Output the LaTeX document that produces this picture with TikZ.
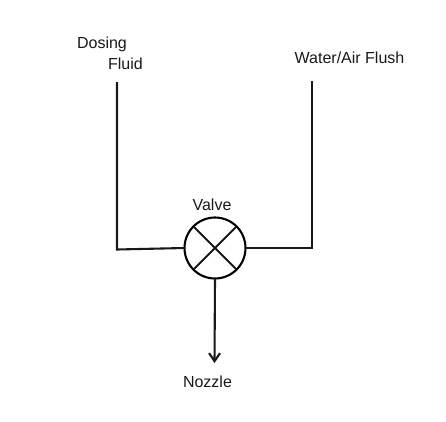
\documentclass[tikz,border=0pt]{standalone}
\usepackage{fontspec}
\setmainfont{Liberation Sans}
\usetikzlibrary{arrows.meta}
\tikzset{
  pipe/.style={draw=black!90, line width=2.1pt},
  label/.style={inner sep=0pt, anchor=center, text=black!90, font=\fontsize{16}{18}\selectfont},
  valvebody/.style={circle, draw=black, line width=2.1pt, minimum size=61pt, inner sep=0pt, outer sep=0pt},
  flow/.style={pipe, -{Straight Barb[length=8pt,width=11pt,line width=2.1pt]}}
}
\begin{document}
\begin{tikzpicture}[x=1pt,y=-1pt]
\useasboundingbox (0,0) rectangle (446,421);
\node[valvebody] (valve) at (215,248) {};
\node[label] (dosing) at (102,44) {Dosing};
\node[label] (fluid) at (125.5,63.5) {Fluid};
\node[label] (flush) at (349.5,57.5) {Water/Air Flush};
\node[label] (valvelabel) at (212,205) {Valve};
\node[label] (nozzle) at (207.5,381.5) {Nozzle};
\coordinate (inA) at (117,82);
\coordinate (cornerA) at (117,249.5);
\coordinate (inB) at (312,81);
\coordinate (cornerB) at (312,248);
\coordinate (outC) at (214.5,363);
\draw[pipe] (inA) -- (cornerA) -- (valve.west);
\draw[pipe] (inB) -- (cornerB) -- (valve.east);
\draw[flow] (valve.south) -- (outC);
\draw[pipe, shorten >=1pt, shorten <=1pt] (valve.135) -- (valve.-45);
\draw[pipe, shorten >=1pt, shorten <=1pt] (valve.45) -- (valve.-135);
\end{tikzpicture}
\end{document}
